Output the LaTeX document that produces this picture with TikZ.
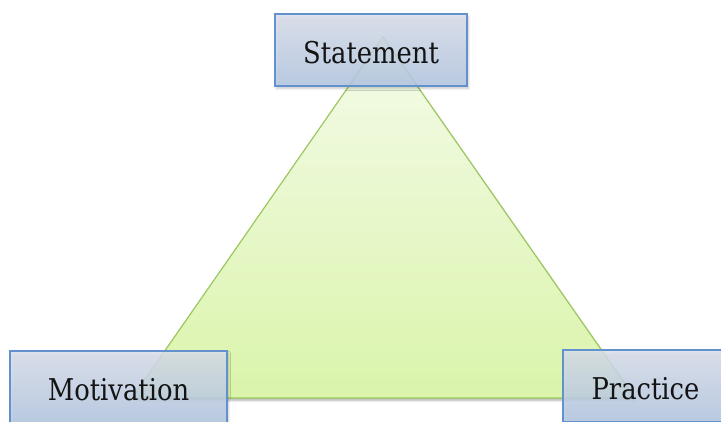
\documentclass[tikz,border=0pt]{standalone}
\usepackage{fontspec}
\setmainfont{DejaVu Serif}
\newfontfamily\labelfont[FakeStretch=0.86]{DejaVu Serif}
\usetikzlibrary{shadows.blur}
\definecolor{boxline}{HTML}{6391CD}
\definecolor{boxtop}{HTML}{DCE2EE}
\definecolor{boxbottom}{HTML}{B6CAE7}
\definecolor{triline}{HTML}{9CC760}
\definecolor{tritop}{HTML}{F4FBEA}
\definecolor{tribottom}{HTML}{DAF4AA}
\tikzset{
  conceptbox/.style={draw=boxline, line width=1.5pt, top color=boxtop, bottom color=boxbottom,
    fill opacity=0.84, text opacity=1, minimum height=72pt, inner sep=0pt,
    text height=26pt, text depth=0pt,
    font=\labelfont\fontsize{30}{32}\selectfont, text=black!92,
    blur shadow={shadow xshift=1.5pt, shadow yshift=-2.5pt, shadow blur steps=6, shadow opacity=25}},
  area/.style={draw=triline, line width=1.2pt, top color=tritop, bottom color=tribottom,
    blur shadow={shadow xshift=1pt, shadow yshift=-2.5pt, shadow blur steps=6, shadow opacity=30}}
}
\begin{document}
\begin{tikzpicture}[x=1pt,y=1pt]
  \useasboundingbox (0,0) rectangle (721,-421);
  % central triangle
  \coordinate (apex) at (383,-37);
  \coordinate (left) at (132,-398);
  \coordinate (right) at (635,-398);
  \path[area] (apex) -- (left) -- (right) -- cycle;
  % corner labels
  \node[conceptbox, minimum width=192pt] (statement) at (371,-50) {Statement};
  \node[conceptbox, minimum width=217pt] (motivation) at (118.5,-387) {Motivation};
  \node[conceptbox, minimum width=165pt] (practice) at (645.5,-386) {Practice};
\end{tikzpicture}
\end{document}
